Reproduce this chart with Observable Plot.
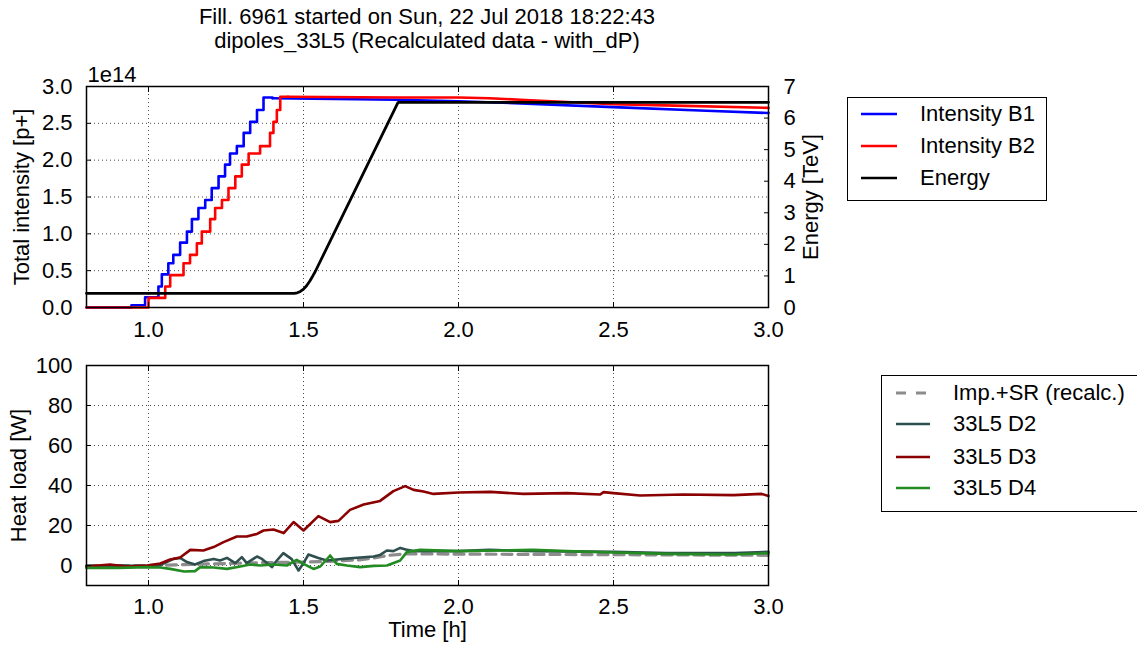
<!DOCTYPE html>
<html><head><meta charset="utf-8">
<script src="https://cdn.jsdelivr.net/npm/d3@7"></script>
<script src="https://cdn.jsdelivr.net/npm/@observablehq/plot@0.6"></script>
<style>
html,body{margin:0;padding:0;background:#fff;overflow:hidden;}
#root{position:relative;width:1137px;height:652px;overflow:hidden;font-family:'Liberation Sans',Arial,sans-serif;color:#000;}
.title{position:absolute;left:0;width:854px;text-align:center;font-size:22px;line-height:24px;white-space:nowrap;}
.legend{position:absolute;border:1.5px solid #000;background:#fff;box-sizing:border-box;}
.legend .lbl{position:absolute;font-size:22px;line-height:30px;height:30px;white-space:nowrap;}
.legend svg{position:absolute;left:0;top:0;overflow:visible;}
.panel{position:absolute;left:0;}
</style></head>
<body><div id="root"></div>
<script>
// ---------- data ----------
const titleLines = ["Fill. 6961 started on Sun, 22 Jul 2018 18:22:43", "dipoles_33L5 (Recalculated data - with_dP)"];
const xTicks = [1.0, 1.5, 2.0, 2.5, 3.0];
const intensityTicks = [0, 0.5, 1.0, 1.5, 2.0, 2.5, 3.0];
const energyTicks = [0, 1, 2, 3, 4, 5, 6, 7];
const heatTicks = [0, 20, 40, 60, 80, 100];

// Intensity B1 (1e14 p+): injection staircase then slow decay
const b1RampT = [0.80, 0.945, 0.989, 1.032, 1.043, 1.064, 1.080, 1.102, 1.124, 1.140, 1.161, 1.183, 1.204, 1.226, 1.247, 1.263, 1.285, 1.307, 1.328, 1.350, 1.371, 1.40];
const b1RampV = [0.00, 0.03, 0.14, 0.285, 0.45, 0.60, 0.715, 0.88, 1.03, 1.20, 1.35, 1.46, 1.62, 1.78, 1.94, 2.09, 2.19, 2.37, 2.52, 2.68, 2.85, 2.84];
const b1TailT = [1.40, 1.60, 1.80, 2.00, 2.20, 2.50, 2.80, 3.00];
const b1TailV = [2.84, 2.83, 2.82, 2.80, 2.77, 2.72, 2.67, 2.64];
// Intensity B2
const b2RampT = [0.80, 1.000, 1.054, 1.070, 1.113, 1.134, 1.156, 1.172, 1.199, 1.215, 1.237, 1.258, 1.280, 1.301, 1.323, 1.360, 1.392, 1.403, 1.414, 1.425, 1.45];
const b2RampV = [0.00, 0.13, 0.285, 0.44, 0.60, 0.715, 0.87, 1.03, 1.20, 1.35, 1.46, 1.62, 1.78, 1.94, 2.09, 2.19, 2.37, 2.52, 2.68, 2.86, 2.86];
const b2TailT = [1.45, 1.80, 2.00, 2.10, 2.20, 2.30, 2.40, 2.50, 2.70, 3.00];
const b2TailV = [2.86, 2.85, 2.85, 2.84, 2.82, 2.80, 2.78, 2.76, 2.74, 2.71];
// Energy (TeV)
const energyT = [0.80, 1.47, 1.48, 1.49, 1.50, 1.51, 1.52, 1.53, 1.538, 1.805, 3.00];
const energyV = [0.45, 0.45, 0.465, 0.51, 0.58, 0.69, 0.83, 1.00, 1.14, 6.50, 6.50];

// Heat loads (W)
const impT = [0.80, 1.00, 1.05, 1.10, 1.20, 1.30, 1.40, 1.50, 1.55, 1.60, 1.68, 1.72, 1.77, 1.83, 1.90, 2.00, 2.50, 3.00];
const impV = [0.0, 0.0, 0.1, 0.4, 0.8, 1.2, 1.5, 1.7, 1.9, 2.2, 2.8, 3.6, 5.0, 5.8, 5.8, 5.7, 5.4, 5.1];
const d2T = [0.80, 0.90, 1.00, 1.038, 1.081, 1.102, 1.124, 1.150, 1.177, 1.210, 1.231, 1.253, 1.280, 1.301, 1.317, 1.350, 1.366, 1.398, 1.414, 1.435, 1.462, 1.484, 1.500, 1.516, 1.548, 1.575, 1.607, 1.629, 1.683, 1.726, 1.747, 1.769, 1.790, 1.812, 1.830, 1.855, 2.00, 2.10, 2.25, 2.50, 2.67, 2.89, 3.00];
const d2V = [-0.3, 0.0, -0.3, 0.2, 3.3, 3.8, 1.7, 0.5, 2.2, 3.3, 2.5, 3.8, 1.2, 4.2, 1.2, 4.5, 3.3, -0.8, 2.5, 6.2, 3.2, -2.5, 1.2, 5.5, 3.8, 2.5, 3.0, 3.3, 4.0, 4.5, 5.3, 7.5, 7.2, 8.8, 8.0, 7.2, 7.2, 7.8, 7.2, 6.8, 6.2, 6.2, 6.8];
const d3T = [0.80, 0.876, 0.93, 0.995, 1.038, 1.07, 1.102, 1.135, 1.177, 1.21, 1.242, 1.285, 1.317, 1.35, 1.371, 1.403, 1.436, 1.468, 1.50, 1.548, 1.586, 1.613, 1.65, 1.694, 1.747, 1.79, 1.828, 1.855, 1.887, 1.919, 2.0, 2.103, 2.21, 2.35, 2.457, 2.468, 2.5, 2.586, 2.726, 2.887, 2.978, 3.0];
const d3V = [-0.5, 0.5, -0.5, 0.0, 1.0, 3.0, 4.0, 7.8, 7.5, 9.2, 11.7, 14.5, 14.5, 15.8, 17.5, 18.0, 16.2, 21.7, 17.5, 24.7, 21.7, 22.3, 27.8, 30.5, 32.3, 37.2, 39.7, 37.8, 37.0, 35.8, 36.5, 36.8, 35.8, 36.2, 35.5, 36.7, 36.2, 35.0, 35.5, 35.2, 35.8, 34.8];
const d4T = [0.80, 0.90, 1.00, 1.038, 1.070, 1.115, 1.150, 1.167, 1.210, 1.253, 1.296, 1.328, 1.360, 1.403, 1.446, 1.478, 1.500, 1.532, 1.554, 1.586, 1.607, 1.640, 1.683, 1.726, 1.769, 1.812, 1.833, 1.876, 2.00, 2.134, 2.24, 2.35, 2.50, 2.67, 2.887, 3.00];
const d4V = [-1.2, -1.2, -0.8, -1.0, -1.7, -3.0, -2.8, -0.8, -1.0, -1.7, -0.5, 0.5, 0.0, 0.5, 0.0, 2.8, 0.8, -1.7, -0.5, 5.0, 0.8, 0.0, -0.8, -0.2, 0.0, 2.5, 6.7, 7.8, 7.2, 7.5, 7.8, 7.2, 6.5, 5.8, 5.5, 6.2];

const topLegendLabels = ["Intensity B1", "Intensity B2", "Energy"];
const bottomLegendLabels = ["Imp.+SR (recalc.)", "33L5 D2", "33L5 D3", "33L5 D4"];

// ---------- styles ----------
const C = {b1: "#0000ff", b2: "#ff0000", en: "#000000", imp: "#8c8c8c", d2: "#2f4f4f", d3: "#8b0000", d4: "#228b22"};
const FONT = "'Liberation Sans', Arial, sans-serif";
const FS = 22;
const E_TO_I = 3 / 7; // twin axis: 0-7 TeV spans same frame as 0-3 (x1e14)

const rows = (ts, vs) => ts.map((t, i) => ({t, v: vs[i]}));
const root = document.getElementById("root");

titleLines.forEach((s, i) => {
  const d = document.createElement("div");
  d.className = "title";
  d.style.top = (5 + i * 24) + "px";
  d.textContent = s;
  root.appendChild(d);
});

const gridOpts = {stroke: "#000", strokeOpacity: 0.7, strokeWidth: 1, strokeDasharray: "1,3"};
const lw = 2.6;

function frameTicks(xt, yl, yr) {
  return [
    Plot.frame({stroke: "#000", strokeWidth: 1.5}),
    Plot.axisX({ticks: xt, anchor: "bottom", tickSize: 5, dy: -5, fill: "none", label: null}),
    Plot.axisX({ticks: xt, anchor: "top", tickSize: 5, dy: 5, fill: "none", label: null}),
    Plot.axisY({ticks: yl, anchor: "left", tickSize: 5, dx: 5, fill: "none", label: null}),
    Plot.axisY({ticks: yr, anchor: "right", tickSize: 5, dx: -5, fill: "none", label: null})
  ];
}

const energyTickPos = energyTicks.map(e => e * E_TO_I);

const topPlot = Plot.plot({
  width: 860, height: 287,
  marginLeft: 86, marginRight: 92, marginTop: 26, marginBottom: 40,
  style: {fontFamily: FONT, fontSize: FS + "px", background: "transparent", overflow: "visible"},
  x: {domain: [0.8, 3.0]},
  y: {domain: [0, 3]},
  marks: [
    Plot.gridX({ticks: xTicks.slice(0, -1), ...gridOpts}),
    Plot.gridY({ticks: intensityTicks.slice(1, -1), ...gridOpts}),
    Plot.line(rows(b1RampT, b1RampV), {x: "t", y: "v", curve: "step-after", stroke: C.b1, strokeWidth: lw}),
    Plot.line(rows(b1TailT, b1TailV), {x: "t", y: "v", stroke: C.b1, strokeWidth: lw}),
    Plot.line(rows(b2RampT, b2RampV), {x: "t", y: "v", curve: "step-after", stroke: C.b2, strokeWidth: lw}),
    Plot.line(rows(b2TailT, b2TailV), {x: "t", y: "v", stroke: C.b2, strokeWidth: lw}),
    Plot.line(rows(energyT, energyV), {x: "t", y: d => d.v * E_TO_I, curve: "linear", stroke: C.en, strokeWidth: lw + 0.2, strokeLinejoin: "miter"}),
    ...frameTicks(xTicks, intensityTicks, energyTickPos),
    Plot.axisX({ticks: xTicks, anchor: "bottom", tickSize: 0, tickPadding: 14, tickFormat: d3.format(".1f"), label: null, fontSize: FS}),
    Plot.axisY({ticks: intensityTicks, anchor: "left", tickSize: 0, tickPadding: 14, tickFormat: d3.format(".1f"), label: null, fontSize: FS}),
    Plot.axisY({ticks: energyTickPos, anchor: "right", tickSize: 0, tickPadding: 15, tickFormat: d => String(Math.round(d / E_TO_I)), label: null, fontSize: FS}),
    Plot.text(["Total intensity [p+]"], {text: d => d, frameAnchor: "left", textAnchor: "middle", dx: -65, rotate: -90, fontSize: FS}),
    Plot.text(["Energy [TeV]"], {text: d => d, frameAnchor: "right", textAnchor: "middle", dx: 42, rotate: -90, fontSize: FS}),
    Plot.text(["1e14"], {text: d => d, frameAnchor: "top-left", textAnchor: "start", lineAnchor: "bottom", dx: 1, dy: -5, fontSize: FS})
  ]
});
topPlot.classList.add("panel");
topPlot.style.top = "60px";
root.appendChild(topPlot);

const botPlot = Plot.plot({
  width: 860, height: 298,
  marginLeft: 86, marginRight: 92, marginTop: 18, marginBottom: 60,
  style: {fontFamily: FONT, fontSize: FS + "px", background: "transparent", overflow: "visible"},
  x: {domain: [0.8, 3.0]},
  y: {domain: [-10, 100]},
  marks: [
    Plot.gridX({ticks: xTicks.slice(0, -1), ...gridOpts}),
    Plot.gridY({ticks: heatTicks.slice(0, -1), ...gridOpts}),
    Plot.line(rows(impT, impV), {x: "t", y: "v", stroke: C.imp, strokeWidth: lw + 0.6, strokeDasharray: "10,6"}),
    Plot.line(rows(d2T, d2V), {x: "t", y: "v", stroke: C.d2, strokeWidth: lw}),
    Plot.line(rows(d3T, d3V), {x: "t", y: "v", stroke: C.d3, strokeWidth: lw}),
    Plot.line(rows(d4T, d4V), {x: "t", y: "v", stroke: C.d4, strokeWidth: lw}),
    ...frameTicks(xTicks, heatTicks, heatTicks),
    Plot.axisX({ticks: xTicks, anchor: "bottom", tickSize: 0, tickPadding: 13, tickFormat: d3.format(".1f"), label: null, fontSize: FS}),
    Plot.axisY({ticks: heatTicks, anchor: "left", tickSize: 0, tickPadding: 14, tickFormat: d3.format("d"), label: null, fontSize: FS}),
    Plot.text(["Heat load [W]"], {text: d => d, frameAnchor: "left", textAnchor: "middle", dx: -68, rotate: -90, fontSize: FS}),
    Plot.text(["Time [h]"], {text: d => d, frameAnchor: "bottom", dy: 51, fontSize: FS})
  ]
});
botPlot.classList.add("panel");
botPlot.style.top = "347px";
root.appendChild(botPlot);

function legend(box, labels, colors, dashes, rowY, lineX, textX) {
  const div = document.createElement("div");
  div.className = "legend";
  Object.assign(div.style, {left: box[0] + "px", top: box[1] + "px", width: box[2] + "px", height: box[3] + "px"});
  const ns = "http://www.w3.org/2000/svg";
  const svg = document.createElementNS(ns, "svg");
  svg.setAttribute("width", box[2]); svg.setAttribute("height", box[3]);
  labels.forEach((lab, i) => {
    const ln = document.createElementNS(ns, "line");
    ln.setAttribute("x1", lineX[0]); ln.setAttribute("x2", lineX[1]);
    ln.setAttribute("y1", rowY[i]); ln.setAttribute("y2", rowY[i]);
    ln.setAttribute("stroke", colors[i]); ln.setAttribute("stroke-width", dashes[i] ? 3 : 2.6);
    if (dashes[i]) ln.setAttribute("stroke-dasharray", dashes[i]);
    svg.appendChild(ln);
    const s = document.createElement("div");
    s.className = "lbl";
    s.style.left = textX + "px";
    s.style.top = (rowY[i] - 15) + "px";
    s.textContent = lab;
    div.appendChild(s);
  });
  div.appendChild(svg);
  root.appendChild(div);
}
legend([847, 97, 200, 104], topLegendLabels, [C.b1, C.b2, C.en], [null, null, null], [16, 48, 80], [13, 49], 72);
legend([881, 375, 300, 137], bottomLegendLabels, [C.imp, C.d2, C.d3, C.d4], ["10,10", null, null, null], [17, 48, 81, 112], [14, 48], 71);
</script></body></html>
